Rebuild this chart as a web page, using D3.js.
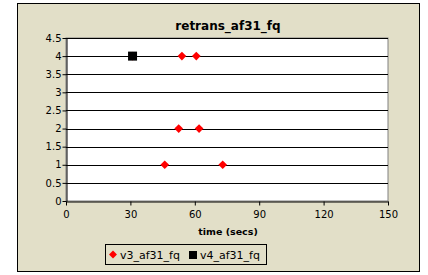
<!DOCTYPE html>
<html>
<head>
<meta charset="utf-8">
<script src="https://cdn.jsdelivr.net/npm/d3@7"></script>
<style>
  body { margin: 0; background: #fff; }
  svg text { font-family: "DejaVu Sans", Verdana, Arial, sans-serif; }
</style>
</head>
<body>
<svg id="chart"></svg>
<script>
// chart data
const title = "retrans_af31_fq";
const xTicks = [0, 30, 60, 90, 120, 150];
const yTicks = [0, 0.5, 1, 1.5, 2, 2.5, 3, 3.5, 4, 4.5];
const v3Points = [[31, 4], [46, 1], [73, 1], [52.5, 2], [62, 2], [54, 4], [60.7, 4]];
const v4Points = [[31, 4]];
const seriesNames = ["v3_af31_fq", "v4_af31_fq"];

const width = 428, height = 275;
const svg = d3.select("#chart").attr("width", width).attr("height", height);

// outer chart area
svg.append("rect")
  .attr("x", 17.5).attr("y", 3.5)
  .attr("width", 402).attr("height", 268)
  .attr("fill", "#e2dfc8").attr("stroke", "#000").attr("stroke-width", 1);

const plot = { left: 66, right: 388, top: 38, bottom: 201 };

const x = d3.scaleLinear().domain([0, 150]).range([plot.left, plot.right]);
const y = d3.scaleLinear().domain([0, 4.5]).range([plot.bottom, plot.top]);

svg.append("rect")
  .attr("x", plot.left).attr("y", plot.top)
  .attr("width", plot.right - plot.left).attr("height", plot.bottom - plot.top)
  .attr("fill", "#fff").attr("stroke", "#808080");

// horizontal gridlines
svg.append("g").selectAll("line")
  .data(yTicks.filter(d => d > 0))
  .join("line")
  .attr("x1", plot.left).attr("x2", plot.right)
  .attr("y1", d => Math.round(y(d)) + 0.5).attr("y2", d => Math.round(y(d)) + 0.5)
  .attr("stroke", "#000");

const yAxis = svg.append("g")
  .attr("transform", `translate(${plot.left + 0.5},0)`)
  .call(d3.axisLeft(y).tickValues(yTicks).tickSize(4).tickSizeOuter(0).tickFormat(d3.format("")));
const xAxis = svg.append("g")
  .attr("transform", `translate(0,${Math.round(plot.bottom) + 0.5})`)
  .call(d3.axisBottom(x).tickValues(xTicks).tickSize(4).tickSizeOuter(0));

[xAxis, yAxis].forEach(a => {
  a.select(".domain").attr("stroke", "#000");
  a.selectAll(".tick line").attr("stroke", "#000");
  a.selectAll(".tick text").attr("font-size", 10).attr("fill", "#000")
    .attr("font-family", "'DejaVu Sans', Verdana, Arial, sans-serif");
});
yAxis.selectAll(".tick text").attr("x", -5);
xAxis.selectAll(".tick text").attr("y", 9);

// titles
svg.append("text")
  .attr("x", (plot.left + plot.right) / 2 + 1).attr("y", 30)
  .attr("text-anchor", "middle").attr("font-size", 12).attr("font-weight", "bold")
  .text(title);
svg.append("text")
  .attr("x", (plot.left + plot.right) / 2 + 1).attr("y", 235)
  .attr("text-anchor", "middle").attr("font-size", 9.5).attr("font-weight", "bold")
  .text("time (secs)");

// points
const diamond = d3.symbol().type(d3.symbolDiamond2).size(48);
svg.append("g").selectAll("path")
  .data(v3Points)
  .join("path")
  .attr("d", diamond)
  .attr("transform", d => `translate(${x(d[0])},${y(d[1])})`)
  .attr("fill", "#ff0000");
svg.append("g").selectAll("rect")
  .data(v4Points)
  .join("rect")
  .attr("x", d => x(d[0]) - 4.5).attr("y", d => y(d[1]) - 4.5)
  .attr("width", 9).attr("height", 9)
  .attr("fill", "#000");

// legend
const legend = svg.append("g");
legend.append("rect")
  .attr("x", 105.5).attr("y", 244.5).attr("width", 161).attr("height", 20)
  .attr("fill", "#e2dfc8").attr("stroke", "#000");
legend.append("path")
  .attr("d", d3.symbol().type(d3.symbolDiamond2).size(40))
  .attr("transform", "translate(113,254.5)")
  .attr("fill", "#ff0000");
legend.append("text").attr("x", 120).attr("y", 258.5).attr("font-size", 11).text(seriesNames[0]);
legend.append("rect").attr("x", 189).attr("y", 251).attr("width", 8).attr("height", 8).attr("fill", "#000");
legend.append("text").attr("x", 200).attr("y", 258.5).attr("font-size", 11).text(seriesNames[1]);
</script>
</body>
</html>
